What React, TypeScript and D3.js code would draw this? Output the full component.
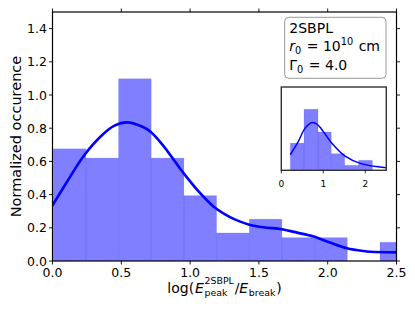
import React, { useEffect, useRef } from "react";
import * as d3 from "d3";

// ---------- data ----------
const mainBinEdges = [0.005, 0.2425, 0.48, 0.7175, 0.955, 1.1925, 1.43, 1.6675, 1.905, 2.1425, 2.38, 2.6175];
const mainBinHeights = [0.676, 0.62, 1.098, 0.62, 0.394, 0.169, 0.252, 0.141, 0.141, 0, 0.113];

const mainCurveX = [0, 0.1, 0.224, 0.35, 0.45, 0.54, 0.65, 0.71, 0.8, 0.952, 1.05, 1.17, 1.29, 1.365, 1.437, 1.534, 1.668, 1.777, 1.898, 2.02, 2.14, 2.26, 2.31, 2.5];
const mainCurveY = [0.335, 0.47, 0.63, 0.75, 0.815, 0.835, 0.81, 0.78, 0.7, 0.53, 0.43, 0.328, 0.264, 0.237, 0.217, 0.203, 0.191, 0.171, 0.147, 0.11, 0.077, 0.06, 0.056, 0.052];

const insetBinEdges = [0.214, 0.54, 0.874, 1.19, 1.51, 1.84, 2.17];
const insetBinHeights = [0.49, 1.1, 0.69, 0.3, 0.09, 0.18];

const insetCurveX = [0.214, 0.4, 0.56, 0.714, 0.83, 0.95, 1.19, 1.51, 1.9, 2.5];
const insetCurveY = [0.28, 0.51, 0.75, 0.857, 0.84, 0.75, 0.5, 0.26, 0.12, 0.047];

const mainXTicks = [0, 0.5, 1.0, 1.5, 2.0, 2.5];
const mainYTicks = [0, 0.2, 0.4, 0.6, 0.8, 1.0, 1.2, 1.4];
const insetXTicks = [0, 1, 2];

const yLabel = "Normalized occurence";
const legendTitle = "2SBPL";

const FONT = "DejaVu Sans, Verdana, sans-serif";

type Piece =
  | { t: string; size: number; italic?: boolean; shift?: number; gap?: number }
  | { sup: { t: string; size: number; shift: number }; sub: { t: string; size: number; shift: number }; gap?: number };

function mathText(
  parent: d3.Selection<SVGGElement, unknown, null, undefined>,
  x: number,
  y: number,
  pieces: Piece[],
  anchor: "start" | "middle"
) {
  const g = parent.append("g");
  let cx = 0;
  const add = (t: string, size: number, italic: boolean, shift: number, at: number) => {
    const el = g
      .append("text")
      .attr("x", at)
      .attr("y", shift)
      .attr("font-family", FONT)
      .attr("font-size", size)
      .attr("font-style", italic ? "italic" : "normal")
      .attr("fill", "#000")
      .style("white-space", "pre")
      .text(t);
    const node = el.node() as SVGTextElement;
    return node.getComputedTextLength();
  };
  for (const p of pieces) {
    if ("sup" in p) {
      const w1 = add(p.sup.t, p.sup.size, false, p.sup.shift, cx);
      const w2 = add(p.sub.t, p.sub.size, false, p.sub.shift, cx);
      cx += Math.max(w1, w2) + (p.gap ?? 0);
    } else {
      cx += add(p.t, p.size, !!p.italic, p.shift ?? 0, cx) + (p.gap ?? 0);
    }
  }
  const ox = anchor === "middle" ? x - cx / 2 : x;
  g.attr("transform", `translate(${ox},${y})`);
  return g;
}

export default function App() {
  const ref = useRef<SVGSVGElement>(null);

  useEffect(() => {
    const svg = d3.select(ref.current as SVGSVGElement);
    svg.selectAll("*").remove();
    const root = svg.append("g") as unknown as d3.Selection<SVGGElement, unknown, null, undefined>;

    // ---------- main axes ----------
    const L = 52.5, R = 396.5, T = 12, B = 261;
    const x = d3.scaleLinear().domain([0, 2.5]).range([L, R]);
    const y = d3.scaleLinear().domain([0, 1.5]).range([B, T]);

    const defs = svg.append("defs");
    defs.append("clipPath").attr("id", "mainClip")
      .append("rect").attr("x", L).attr("y", T).attr("width", R - L).attr("height", B - T);

    const plot = root.append("g").attr("clip-path", "url(#mainClip)");

    const bins = mainBinHeights.map((h, i) => ({ x0: mainBinEdges[i], x1: mainBinEdges[i + 1], h }));
    plot.selectAll("rect.bar").data(bins.filter(b => b.h > 0)).join("rect")
      .attr("class", "bar")
      .attr("x", d => x(d.x0))
      .attr("width", d => x(d.x1) - x(d.x0))
      .attr("y", d => y(d.h))
      .attr("height", d => y(0) - y(d.h))
      .attr("fill", "#0000ff")
      .attr("fill-opacity", 0.5)
      .attr("stroke", "#0000ff")
      .attr("stroke-opacity", 0.08)
      .attr("stroke-width", 1);

    const line = d3.line<number>()
      .x((_, i) => x(mainCurveX[i]))
      .y(d => y(d))
      .curve(d3.curveCatmullRom.alpha(0.5));
    plot.append("path")
      .attr("d", line(mainCurveY) as string)
      .attr("fill", "none")
      .attr("stroke", "#0000ff")
      .attr("stroke-width", 2.6)
      .attr("stroke-linecap", "round");

    // spines
    root.append("rect")
      .attr("x", L).attr("y", T).attr("width", R - L).attr("height", B - T)
      .attr("fill", "none").attr("stroke", "#000").attr("stroke-width", 1.2);

    const tl = 3.5;
    mainXTicks.forEach(v => {
      root.append("line").attr("x1", x(v)).attr("x2", x(v)).attr("y1", B).attr("y2", B + tl)
        .attr("stroke", "#000").attr("stroke-width", 0.9);
      root.append("line").attr("x1", x(v)).attr("x2", x(v)).attr("y1", T).attr("y2", T - tl)
        .attr("stroke", "#000").attr("stroke-width", 0.9);
      root.append("text").attr("x", x(v)).attr("y", 276.5)
        .attr("text-anchor", "middle").attr("font-family", FONT).attr("font-size", 12.5)
        .attr("fill", "#000").text(d3.format(".1f")(v));
    });
    mainYTicks.forEach(v => {
      root.append("line").attr("x1", L).attr("x2", L - tl).attr("y1", y(v)).attr("y2", y(v))
        .attr("stroke", "#000").attr("stroke-width", 0.9);
      root.append("line").attr("x1", R).attr("x2", R + tl).attr("y1", y(v)).attr("y2", y(v))
        .attr("stroke", "#000").attr("stroke-width", 0.9);
      root.append("text").attr("x", L - tl - 2).attr("y", y(v)).attr("dy", "0.36em")
        .attr("text-anchor", "end").attr("font-family", FONT).attr("font-size", 12.5)
        .attr("fill", "#000").text(d3.format(".1f")(v));
    });

    // y label
    root.append("text")
      .attr("transform", `translate(21,${(T + B) / 2}) rotate(-90)`)
      .attr("text-anchor", "middle").attr("font-family", FONT).attr("font-size", 14.5)
      .attr("fill", "#000").text(yLabel);

    // x label: log(E_peak^2SBPL / E_break)
    mathText(root, (L + R) / 2, 293, [
      { t: "log(", size: 14, gap: 0.8 },
      { t: "E", size: 14, italic: true, gap: 0.8 },
      { sup: { t: "2SBPL", size: 9.4, shift: -9 }, sub: { t: "peak", size: 9.4, shift: 2.8 }, gap: 0.8 },
      { t: "/", size: 14 },
      { t: "E", size: 14, italic: true, gap: 0.6 },
      { t: "break", size: 9.4, shift: 2.8, gap: 0.8 },
      { t: ")", size: 14 },
    ], "middle");

    // ---------- legend box ----------
    root.append("rect")
      .attr("x", 284.7).attr("y", 17.3).attr("width", 101.3).attr("height", 61)
      .attr("rx", 4).attr("ry", 4)
      .attr("fill", "#fff").attr("stroke", "#9a9a9a").attr("stroke-width", 1);
    mathText(root, 289.3, 32.5, [{ t: legendTitle, size: 14 }], "start");
    mathText(root, 289.3, 51, [
      { t: "r", size: 14, italic: true },
      { t: "0", size: 9.8, shift: 3, gap: 1 },
      { t: " = 10", size: 14 },
      { t: "10", size: 9.8, shift: -6, gap: 1 },
      { t: " cm", size: 14 },
    ], "start");
    mathText(root, 289.3, 69.5, [
      { t: "Γ", size: 14 },
      { t: "0", size: 9.8, shift: 3, gap: 1 },
      { t: " = 4.0", size: 14 },
    ], "start");

    // ---------- inset ----------
    const iL = 281.3, iR = 386.3, iT = 87, iB = 170.3;
    const ix = d3.scaleLinear().domain([0, 2.5]).range([iL, iR]);
    const iy = d3.scaleLinear().domain([0, 1.5]).range([iB, iT]);

    root.append("rect").attr("x", iL).attr("y", iT).attr("width", iR - iL).attr("height", iB - iT)
      .attr("fill", "#fff");

    defs.append("clipPath").attr("id", "insetClip")
      .append("rect").attr("x", iL).attr("y", iT).attr("width", iR - iL).attr("height", iB - iT);
    const ig = root.append("g").attr("clip-path", "url(#insetClip)");

    const ibins = insetBinHeights.map((h, i) => ({ x0: insetBinEdges[i], x1: insetBinEdges[i + 1], h }));
    ig.selectAll("rect.ibar").data(ibins).join("rect")
      .attr("class", "ibar")
      .attr("x", d => ix(d.x0))
      .attr("width", d => ix(d.x1) - ix(d.x0))
      .attr("y", d => iy(d.h))
      .attr("height", d => iy(0) - iy(d.h))
      .attr("fill", "#0000ff")
      .attr("fill-opacity", 0.5)
      .attr("stroke", "#0000ff")
      .attr("stroke-opacity", 0.08)
      .attr("stroke-width", 1);

    const iline = d3.line<number>()
      .x((_, i) => ix(insetCurveX[i]))
      .y(d => iy(d))
      .curve(d3.curveCatmullRom.alpha(0.5));
    ig.append("path")
      .attr("d", iline(insetCurveY) as string)
      .attr("fill", "none")
      .attr("stroke", "#0000ff")
      .attr("stroke-width", 1.5);

    root.append("rect").attr("x", iL).attr("y", iT).attr("width", iR - iL).attr("height", iB - iT)
      .attr("fill", "none").attr("stroke", "#333").attr("stroke-width", 1.4);

    insetXTicks.forEach(v => {
      root.append("line").attr("x1", ix(v)).attr("x2", ix(v)).attr("y1", iB).attr("y2", iB + 3)
        .attr("stroke", "#000").attr("stroke-width", 0.8);
      root.append("text").attr("x", ix(v)).attr("y", 187)
        .attr("text-anchor", "middle").attr("font-family", FONT).attr("font-size", 9)
        .attr("fill", "#000").text(String(v));
    });
  }, []);

  return (
    <svg
      ref={ref}
      width={415}
      height={312}
      style={{ position: "absolute", left: 0, top: 0, background: "#fff" }}
    />
  );
}
